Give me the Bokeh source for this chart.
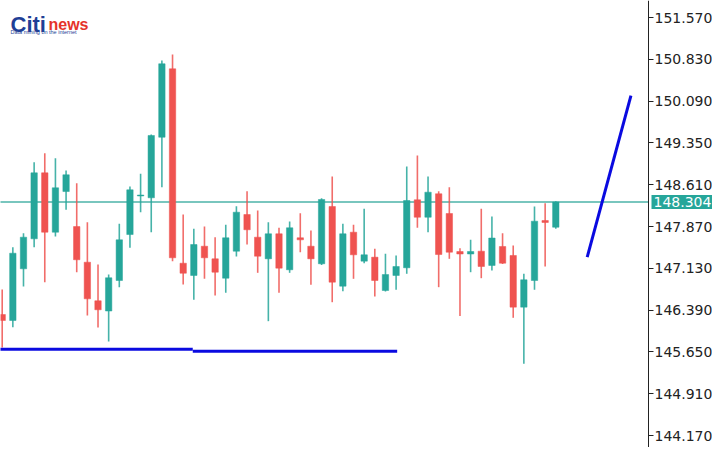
from bokeh.plotting import figure
from bokeh.models import Range1d, LinearAxis, FixedTicker, PrintfTickFormatter, Label, ColumnDataSource
from bokeh.embed import file_html
from bokeh.resources import INLINE

# ---------------- data ----------------
opens = [146.313, 146.207, 147.122, 147.653, 148.821, 147.770, 148.490, 147.870, 147.239, 146.556,
         146.375, 146.915, 147.729, 148.411, 148.379, 149.451, 150.662, 147.221, 147.004, 147.522,
         147.299, 146.956, 147.434, 148.083, 147.682, 147.299, 147.742, 147.105, 147.671, 147.522,
         147.211, 148.225, 146.814, 147.770, 147.257, 147.328, 146.738, 147.004, 147.140, 148.343,
         148.035, 148.450, 148.101, 147.428, 147.384, 147.434, 147.181, 147.517, 147.358, 146.443,
         146.915, 147.977, 147.858]
highs = [146.756, 147.505, 147.752, 149.009, 149.168, 149.080, 148.862, 148.637, 147.947, 147.198,
         147.021, 147.919, 148.579, 148.804, 149.499, 150.809, 150.915, 148.083, 147.830, 147.870,
         147.682, 147.901, 148.230, 148.496, 148.154, 147.947, 147.848, 147.959, 148.106, 147.800,
         148.372, 148.756, 147.919, 147.901, 148.184, 147.476, 147.388, 147.358, 148.933, 149.128,
         148.756, 148.496, 148.566, 147.487, 147.635, 148.184, 148.048, 147.752, 147.535, 147.034,
         148.225, 148.283, 148.319]
lows = [145.729, 146.089, 146.809, 147.505, 146.885, 147.694, 148.166, 147.062, 146.296, 146.083,
        145.835, 146.797, 147.494, 148.124, 147.770, 148.566, 147.257, 146.844, 146.574, 146.945,
        146.650, 146.697, 147.340, 147.552, 147.051, 146.195, 146.697, 147.051, 147.416, 146.839,
        147.189, 146.531, 146.726, 146.945, 147.221, 146.632, 146.720, 146.751, 147.034, 147.848,
        147.770, 146.797, 147.299, 146.287, 147.062, 146.956, 147.092, 147.207, 146.255, 145.441,
        146.751, 147.163, 147.830]
closes = [146.207, 147.398, 147.682, 148.821, 147.770, 148.556, 148.786, 147.282, 146.591, 146.397,
          146.963, 147.635, 148.520, 148.428, 149.482, 150.751, 147.317, 147.044, 147.552, 147.317,
          147.062, 147.671, 148.124, 147.813, 147.345, 147.742, 147.133, 147.848, 147.635, 147.299,
          148.349, 146.885, 147.742, 147.370, 147.370, 146.915, 147.021, 147.163, 148.331, 148.035,
          148.478, 147.375, 147.416, 147.384, 147.428, 147.163, 147.667, 147.221, 146.443, 146.928,
          147.965, 147.942, 148.304]

price_ticks = [151.570, 150.830, 150.090, 149.350, 148.610, 147.870, 147.130,
               146.390, 145.650, 144.910, 144.170]
last_price = 148.304

support1_x = [-0.3, 17.9]
support1_y = [145.700, 145.700]
support2_x = [17.9, 37.1]
support2_y = [145.665, 145.665]
trend_x = [54.95, 59.06]
trend_y = [147.328, 150.189]

# ---------------- styling ----------------
UP = "#26a69a"
DOWN = "#ef5350"
BLUE = "#0a0ae0"
FONT = "DejaVu Sans"
W, H = 712, 447


def ax(px):
    return (px - 1.7) / 10.646


def ay(py):
    return 151.57 - (py - 17) / 56.5


idx = list(range(len(opens)))
colors = [UP if c >= o else DOWN for o, c in zip(opens, closes)]
src = ColumnDataSource(dict(
    x=idx, o=opens, h=highs, l=lows, c=closes,
    top=[max(o, c) for o, c in zip(opens, closes)],
    bottom=[min(o, c) for o, c in zip(opens, closes)],
    color=colors,
))

p = figure(frame_width=W, frame_height=H, output_backend="svg", toolbar_location=None,
           x_range=Range1d(ax(0), ax(W)), y_range=Range1d(ay(H), ay(0)),
           x_axis_location=None, y_axis_location=None, min_border=0)
p.outline_line_color = None
p.grid.visible = False
p.background_fill_color = "white"

axis_x = ax(648)
yax = LinearAxis(ticker=FixedTicker(ticks=price_ticks),
                 formatter=PrintfTickFormatter(format="%.3f"), fixed_location=axis_x)
yax.axis_line_color = "#222222"
yax.axis_line_width = 1
yax.major_tick_line_color = "#222222"
yax.major_tick_in = 0
yax.major_tick_out = 5
yax.minor_tick_line_color = None
yax.major_label_standoff = 1
yax.major_label_text_font = FONT
yax.major_label_text_font_size = "14px"
yax.major_label_text_color = "#222222"
p.add_layout(yax, "right")

# current price line
p.line(x=[ax(-5), axis_x], y=[last_price, last_price], line_color="#4db3a8", line_width=1.5)

# candles
p.segment(x0="x", y0="l", x1="x", y1="h", line_color="color", line_width=1.6, line_alpha=0.85, source=src)
p.vbar(x="x", width=0.6, top="top", bottom="bottom", fill_color="color", line_color="color",
       line_width=0.5, source=src)

# drawn lines
p.line(support1_x, support1_y, line_color=BLUE, line_width=3)
p.line(support2_x, support2_y, line_color=BLUE, line_width=3)
p.line(trend_x, trend_y, line_color=BLUE, line_width=3)

price_lbl = Label(x=ax(651), y=last_price, text=f"{last_price:.3f}", text_font=FONT,
                  text_font_size="14px", text_color="white", text_baseline="middle",
                  text_align="left", background_fill_color=UP, padding=2)
p.add_layout(price_lbl)

p.add_layout(Label(x=ax(10), y=ay(24), text="Citi", text_font="Liberation Sans", text_font_style="bold",
                   text_font_size="22px", text_color="#1f3f96", text_baseline="alphabetic"))
p.add_layout(Label(x=ax(48), y=ay(24), text="news", text_font="Liberation Sans", text_font_style="bold",
                   text_font_size="16px", text_color="#e5332a", text_baseline="alphabetic"))
p.add_layout(Label(x=ax(10), y=ay(31), text="Data mining on the internet", text_font="Liberation Sans",
                   text_font_size="5.5px", text_color="#1f3f96", text_baseline="alphabetic"))

open("out.html", "w").write(file_html(p, INLINE))
